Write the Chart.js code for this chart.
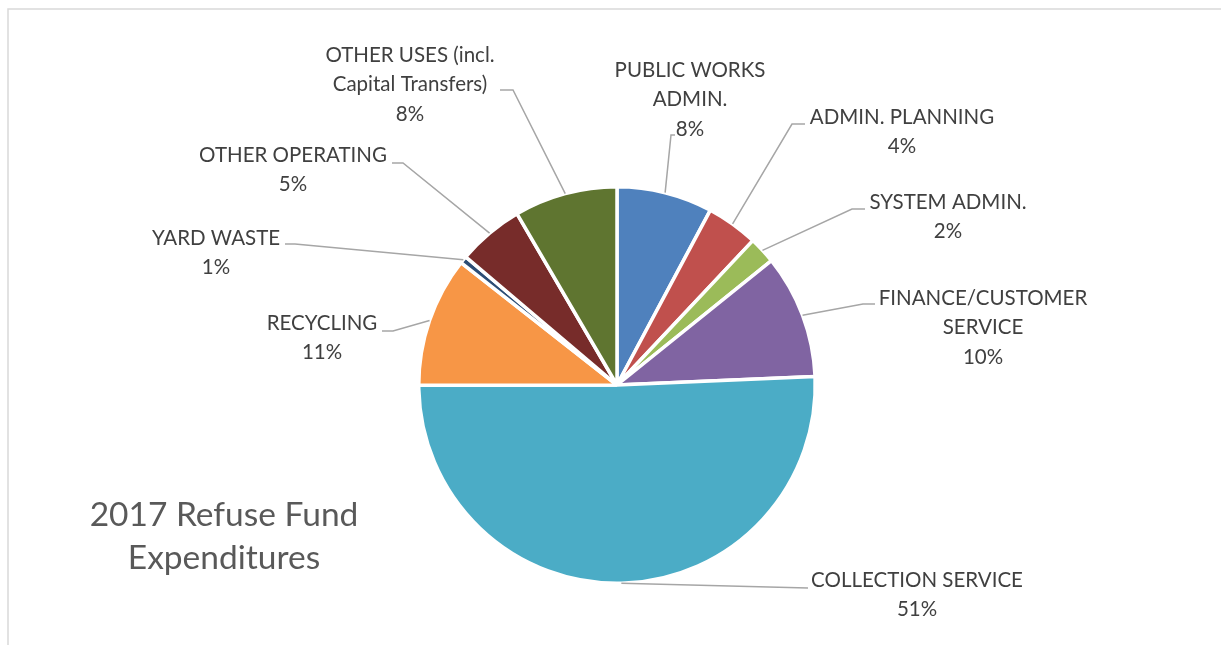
<!DOCTYPE html>
<html>
<head>
<meta charset="utf-8">
<script src="https://cdn.jsdelivr.net/npm/chart.js@4.4.0/dist/chart.umd.min.js"></script>
<style>
  html, body { margin: 0; padding: 0; background: #ffffff; }
  #wrap { position: relative; width: 1221px; height: 645px; }
</style>
</head>
<body>
<div id="wrap"><canvas id="c" width="1221" height="645"></canvas></div>
<script>
// ---- data ----
const categories = [
  'PUBLIC WORKS ADMIN.',
  'ADMIN. PLANNING',
  'SYSTEM ADMIN.',
  'FINANCE/CUSTOMER SERVICE',
  'COLLECTION SERVICE',
  'RECYCLING',
  'YARD WASTE',
  'OTHER OPERATING',
  'OTHER USES (incl. Capital Transfers)'
];
const categoryLines = [
  ['PUBLIC WORKS', 'ADMIN.'],
  ['ADMIN. PLANNING'],
  ['SYSTEM ADMIN.'],
  ['FINANCE/CUSTOMER', 'SERVICE'],
  ['COLLECTION SERVICE'],
  ['RECYCLING'],
  ['YARD WASTE'],
  ['OTHER OPERATING'],
  ['OTHER USES (incl.', 'Capital Transfers)']
];
const values = [7.8, 4.2, 2.2, 10.1, 50.6, 10.6, 0.6, 5.4, 8.4];
const titleLines = ['2017 Refuse Fund', 'Expenditures'];

// ---- styles / layout (kept apart from data) ----
const colors = ['#4F81BD', '#C0504D', '#9BBB59', '#8064A2', '#4BACC6', '#F79646', '#2C4D75', '#772C2A', '#5F7530'];
// label block centre x, first-line y, leader elbow (ex, ey), horizontal end hx
const labelLayout = [
  { x: 690, y: 70,  ex: 671, ey: 135, hx: 675 },
  { x: 902, y: 117, ex: 792, ey: 124, hx: 805 },
  { x: 948, y: 202, ex: 852, ey: 209, hx: 865 },
  { x: 983, y: 298, ex: 863, ey: 304, hx: 875 },
  { x: 917, y: 580, ex: 808, ey: 588, hx: 808 },
  { x: 322, y: 323, ex: 393, ey: 331, hx: 382 },
  { x: 216, y: 238, ex: 295, ey: 244, hx: 285 },
  { x: 293, y: 155, ex: 403, ey: 163, hx: 392 },
  { x: 410, y: 55,  ex: 513, ey: 90,  hx: 500 }
];
const labelFont = '20.5px Lato';
const labelLineH = 29.5;
const titleFont = '33.5px Lato';

const total = values.reduce((a, b) => a + b, 0);

const overlay = {
  id: 'overlay',
  beforeDraw(chart) {
    const ctx = chart.ctx;
    ctx.save();
    ctx.strokeStyle = '#D9D9D9';
    ctx.lineWidth = 1.5;
    ctx.beginPath();
    ctx.moveTo(8, 645);
    ctx.lineTo(8, 9);
    ctx.lineTo(1221, 9);
    ctx.stroke();
    ctx.restore();
  },
  afterDraw(chart) {
    const ctx = chart.ctx;
    const meta = chart.getDatasetMeta(0);
    ctx.save();
    // leader lines
    ctx.strokeStyle = '#A6A6A6';
    ctx.lineWidth = 1.5;
    meta.data.forEach((arc, i) => {
      const p = arc.getProps(['x', 'y', 'startAngle', 'endAngle', 'outerRadius'], true);
      const mid = (p.startAngle + p.endAngle) / 2;
      const sx = p.x + Math.cos(mid) * p.outerRadius;
      const sy = p.y + Math.sin(mid) * p.outerRadius;
      const L = labelLayout[i];
      ctx.beginPath();
      ctx.moveTo(sx, sy);
      ctx.lineTo(L.ex, L.ey);
      ctx.lineTo(L.hx, L.ey);
      ctx.stroke();
    });
    // labels
    ctx.fillStyle = '#404040';
    ctx.font = labelFont;
    ctx.textAlign = 'center';
    ctx.textBaseline = 'middle';
    categoryLines.forEach((lines, i) => {
      const L = labelLayout[i];
      const pct = Math.round(values[i] / total * 100) + '%';
      const all = lines.concat([pct]);
      all.forEach((t, k) => ctx.fillText(t, L.x, L.y + k * labelLineH));
    });
    // title
    ctx.fillStyle = '#595959';
    ctx.font = titleFont;
    titleLines.forEach((t, k) => ctx.fillText(t, 224, 515 + k * 43));
    ctx.restore();
  }
};

new Chart(document.getElementById('c'), {
  type: 'pie',
  data: {
    labels: categories,
    datasets: [{
      data: values,
      backgroundColor: colors,
      borderColor: '#FFFFFF',
      borderWidth: 3.5,
      hoverBorderWidth: 3.5,
      hoverOffset: 0
    }]
  },
  options: {
    responsive: false,
    animation: false,
    events: [],
    layout: { padding: { left: 417, right: 404, top: 185, bottom: 60 } },
    plugins: {
      legend: { display: false },
      tooltip: { enabled: false },
      title: { display: false }
    }
  },
  plugins: [overlay]
});
</script>
</body>
</html>
